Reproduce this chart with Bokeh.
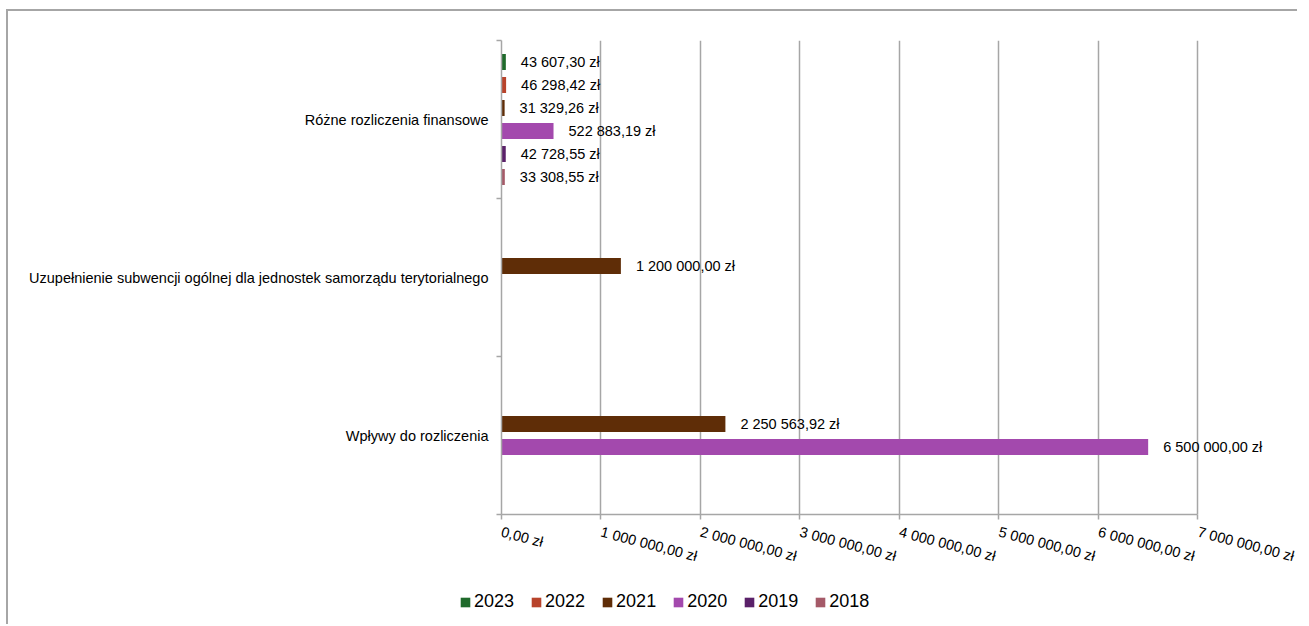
from bokeh.plotting import figure
from bokeh.layouts import column, row
from bokeh.models import (ColumnDataSource, FixedTicker, Legend, LegendItem,
                          LabelSet, Range1d)
from bokeh.core.properties import value
from bokeh.embed import file_html
from bokeh.resources import INLINE

# ---- data ----
categories = [
    "Różne rozliczenia finansowe",
    "Uzupełnienie subwencji ogólnej dla jednostek samorządu terytorialnego",
    "Wpływy do rozliczenia",
]
years = ["2023", "2022", "2021", "2020", "2019", "2018"]
v2023 = [43607.30, 0.0, 0.0]
v2022 = [46298.42, 0.0, 0.0]
v2021 = [31329.26, 1200000.00, 2250563.92]
v2020 = [522883.19, 0.0, 6500000.00]
v2019 = [42728.55, 0.0, 0.0]
v2018 = [33308.55, 0.0, 0.0]
series = [v2023, v2022, v2021, v2020, v2019, v2018]
x_ticks = [0, 1000000, 2000000, 3000000, 4000000, 5000000, 6000000, 7000000]
colors = ["#1f6a2b", "#b8432b", "#5f2d07", "#a349ad", "#5a2169", "#a55a68"]

FONT = "Liberation Sans"
GRID = "#a6a6a6"


def pl(v):
    s = f"{v:,.2f}"
    return s.replace(",", " ").replace(".", ",") + " zł"


n_cat = len(categories)
slot = 0.1456
bar_h = 0.101
centers = [n_cat - k - 0.5 for k in range(n_cat)]

x_end = 7.8e6  # extra room on the right so value labels are not clipped
fw = round(696 * x_end / x_ticks[-1])

p = figure(frame_width=fw, frame_height=474, output_backend="svg",
           toolbar_location=None,
           x_range=Range1d(0, x_end), y_range=Range1d(0, n_cat),
           min_border_left=493, min_border_right=20, min_border_top=29,
           min_border_bottom=60)
p.outline_line_color = None
p.background_fill_color = "white"
p.border_fill_color = "white"

# separate strip below for the legend
lg = figure(frame_width=493 + fw + 20, frame_height=50, output_backend="svg",
            toolbar_location=None, x_axis_type=None, y_axis_type=None,
            x_range=Range1d(0, 1), y_range=Range1d(0, 1),
            min_border=0, min_border_left=0, min_border_right=0,
            min_border_top=0, min_border_bottom=0)
lg.outline_line_color = None
lg.xgrid.grid_line_color = None
lg.ygrid.grid_line_color = None
lg.border_fill_color = "white"

items = []
lab_x, lab_y, lab_t = [], [], []
n_s = len(series)
for i, (yr, vals, col) in enumerate(zip(years, series, colors)):
    off = ((n_s - 1) / 2 - i) * slot
    ys = [c + off for c in centers]
    src = ColumnDataSource(dict(y=ys, right=vals))
    p.hbar(y="y", left=0, right="right", height=bar_h, source=src,
           fill_color=col, line_color=None)
    # legend swatch renderer (kept outside the visible range) in the strip
    lr = lg.hbar(y=[5.0], left=[0.0], right=[0.0], height=0.1,
                 fill_color=col, line_color=None)
    items.append(LegendItem(label=yr, renderers=[lr]))
    for v, yy in zip(vals, ys):
        if v > 0:
            lab_x.append(v)
            lab_y.append(yy)
            lab_t.append(pl(v))

lsrc = ColumnDataSource(dict(x=lab_x, y=lab_y, t=lab_t))
labels = LabelSet(x="x", y="y", text="t", source=lsrc, x_offset=15,
                  text_align="left", text_baseline="middle",
                  text_font=value(FONT), text_font_size="14.5px",
                  text_color="black")
p.add_layout(labels)

# x axis
p.xaxis.ticker = FixedTicker(ticks=x_ticks)
p.xaxis.major_label_overrides = {t: pl(t) for t in x_ticks}
p.xaxis.major_label_orientation = -0.255
p.xaxis.major_label_text_font = FONT
p.xaxis.major_label_text_font_size = "14.5px"
p.xaxis.major_label_text_color = "black"
p.xaxis.major_label_standoff = 12
p.xaxis.axis_line_color = GRID
p.xaxis.axis_line_width = 1.5
p.xaxis.major_tick_line_color = GRID
p.xaxis.major_tick_line_width = 1.5
p.xaxis.major_tick_in = 0
p.xaxis.major_tick_out = 5
p.xaxis.minor_tick_line_color = None
p.xaxis.bounds = (0, x_ticks[-1])

# y axis
p.yaxis.ticker = FixedTicker(ticks=centers, minor_ticks=[float(k) for k in range(n_cat + 1)])
p.yaxis.major_label_overrides = {c: cat for c, cat in zip(centers, categories)}
p.yaxis.major_label_text_font = FONT
p.yaxis.major_label_text_font_size = "14.5px"
p.yaxis.major_label_text_color = "black"
p.yaxis.major_label_standoff = 8
p.yaxis.major_tick_line_color = None
p.yaxis.major_tick_in = 0
p.yaxis.major_tick_out = 0
p.yaxis.minor_tick_line_color = GRID
p.yaxis.minor_tick_line_width = 1.5
p.yaxis.minor_tick_in = 0
p.yaxis.minor_tick_out = 5
p.yaxis.axis_line_color = GRID
p.yaxis.axis_line_width = 1.5

p.xgrid.grid_line_color = GRID
p.xgrid.grid_line_width = 1.5
p.xgrid.bounds = (0, x_ticks[-1])
p.ygrid.grid_line_color = None

legend = Legend(items=items, orientation="horizontal", location=(451, 12),
                glyph_width=12, glyph_height=12, label_standoff=3, spacing=16,
                label_text_font=FONT, label_text_font_size="18px",
                label_text_color="black", border_line_color=None,
                background_fill_alpha=0, padding=4, margin=0)
lg.add_layout(legend, "center")

layout = column(p, row(lg), spacing=0,
                styles={"border-top": "2px solid #a6a6a6",
                        "border-left": "2px solid #a6a6a6",
                        "margin-left": "6px", "margin-top": "9px"})

open("out.html", "w").write(file_html(layout, INLINE))
